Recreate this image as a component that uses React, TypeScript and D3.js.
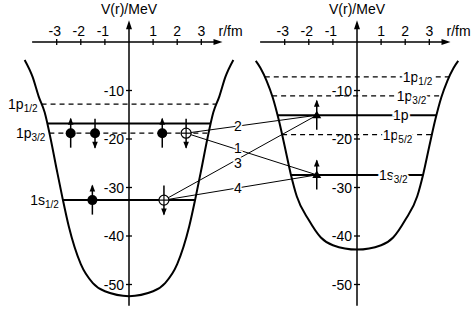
import React from 'react';
import * as d3 from 'd3';

// well shapes (r in fm, V in MeV), mirrored for r < 0
const leftWellR = [0, 1, 1.5, 2, 2.5, 2.75, 3, 3.25, 3.5, 3.75, 4, 4.33];
const leftWellV = [-52.4, -51.4, -49.7, -45.8, -38, -32.4, -26.3, -20, -14.5, -11.2, -7.2, -3.7];
const rightWellR = [0, 1, 1.5, 2, 2.5, 2.75, 3, 3.25, 3.5, 3.75, 4, 4.2];
const rightWellV = [-42.8, -41.9, -40.3, -36.7, -31.8, -27.2, -21.5, -16, -11.4, -8, -5.4, -3.9];

// single particle levels
const leftLevelV = [-12.8, -16.8, -18.8, -32.6];
const leftLevelName = ['1p', '', '1p', '1s'];
const leftLevelSub = ['1/2', '', '3/2', '1/2'];
const leftLevelKind = ['dash', 'solid', 'dash', 'solid'];

const rightLevelV = [-7.2, -11.1, -15.1, -19.1, -27.4];
const rightLevelName = ['1p', '1p', '1p', '1p', '1s'];
const rightLevelSub = ['1/2', '3/2', '', '5/2', '3/2'];
const rightLevelKind = ['dash', 'dash', 'solid', 'dash', 'solid'];
const rightLabelR = [1.9, 1.65, 1.49, 1.07, 0.91];

// occupied states / holes: level index, r position, spin
const leftParticleLevel = [2, 2, 2, 2, 3, 3];
const leftParticleR = [-2.42, -1.41, 1.38, 2.37, -1.52, 1.45];
const leftParticleHole = [false, false, false, true, false, true];
const leftParticleSpin = ['up', 'down', 'up', 'down', 'up', 'down'];

const rightParticleLevel = [2, 4];
const rightParticleR = [-1.67, -1.67];

// transitions: left particle index -> right particle index
const transFrom = [3, 3, 5, 5];
const transTo = [0, 1, 0, 1];
const transLabel = ['2', '1', '3', '4'];
const transLabelDy = [0, -2, 4, 0];

const xTicks = [-3, -2, -1, 1, 2, 3];
const yTicks = [-10, -20, -30, -40, -50];

const FONT = 'Liberation Sans, Arial, Helvetica, sans-serif';
const pxPerFm = 24.1;
const y = d3.scaleLinear().domain([0, -50]).range([42, 284.5]);

function Arrow({ x, yc, dir }: { x: number; yc: number; dir: string }) {
  const top = yc - 14.5;
  const bot = yc + 14.5;
  const tip = dir === 'up' ? top : bot;
  const s = dir === 'up' ? 1 : -1;
  return (
    <g>
      <line x1={x} x2={x} y1={top} y2={bot} stroke="#000" strokeWidth={1.5} />
      <path d={`M${x},${tip - s * 1}L${x - 2.8},${tip + s * 6}L${x + 2.8},${tip + s * 6}Z`} fill="#000" />
    </g>
  );
}

function Axes({ x }: { x: d3.ScaleLinear<number, number> }) {
  const x0 = x(0);
  const xa0 = x(-4.02);
  const xa1 = x(3.88);
  const ya0 = y(4.5);
  const ya1 = y(-54.4);
  return (
    <g fontFamily={FONT} fontSize={14}>
      <line x1={xa0} x2={xa1 - 6} y1={y(0)} y2={y(0)} stroke="#000" strokeWidth={1.5} />
      <path d={`M${xa1},${y(0)}L${xa1 - 9},${y(0) - 3}L${xa1 - 9},${y(0) + 3}Z`} fill="#000" />
      <line x1={x0} x2={x0} y1={ya0 + 6} y2={ya1} stroke="#000" strokeWidth={1.5} />
      <path d={`M${x0},${ya0}L${x0 - 3},${ya0 + 9}L${x0 + 3},${ya0 + 9}Z`} fill="#000" />
      {xTicks.map((t) => (
        <g key={t}>
          <line x1={x(t)} x2={x(t)} y1={y(0) - 3} y2={y(0) + 3} stroke="#000" strokeWidth={1.3} />
          <text x={x(t) - (t < 0 ? 2 : 0)} y={36} textAnchor="middle">{t}</text>
        </g>
      ))}
      <text x={xa1 - 4} y={36}>r/fm</text>
      <text x={x0} y={14} textAnchor="middle">V(r)/MeV</text>
      {yTicks.map((t) => (
        <g key={t}>
          <line x1={x0 - 3} x2={x0 + 3} y1={y(t)} y2={y(t)} stroke="#000" strokeWidth={1.3} />
          <text x={x0 - 5} y={y(t) + 5} textAnchor="end" stroke="#fff" strokeWidth={3}
            style={{ paintOrder: 'stroke' }}>{t}</text>
        </g>
      ))}
    </g>
  );
}

function wellPath(x: d3.ScaleLinear<number, number>, rs: number[], vs: number[]) {
  const pts: [number, number][] = [];
  for (let i = rs.length - 1; i > 0; i--) pts.push([-rs[i], vs[i]]);
  for (let i = 0; i < rs.length; i++) pts.push([rs[i], vs[i]]);
  return d3.line<[number, number]>()
    .x((d) => x(d[0]))
    .y((d) => y(d[1]))
    .curve(d3.curveMonotoneX)(pts) as string;
}

export default function App() {
  const xl = d3.scaleLinear().domain([0, 1]).range([129, 129 + pxPerFm]);
  const xr = d3.scaleLinear().domain([0, 1]).range([357, 357 + pxPerFm]);
  const wallL = d3.scaleLinear().domain(leftWellV).range(leftWellR);
  const wallR = d3.scaleLinear().domain(rightWellV).range(rightWellR);

  const leftPts = leftParticleR.map((r, i) => [xl(r), y(leftLevelV[leftParticleLevel[i]])]);
  const rightPts = rightParticleR.map((r, i) => [xr(r), y(rightLevelV[rightParticleLevel[i]])]);

  return (
    <svg width={473} height={311} style={{ position: 'absolute', left: 0, top: 0, background: '#fff' }}>
      <Axes x={xl} />
      <Axes x={xr} />

      {/* left levels */}
      {leftLevelV.map((v, i) => {
        const rw = wallL(v);
        return (
          <g key={i}>
            <line x1={xl(-rw)} x2={xl(rw)} y1={y(v)} y2={y(v)} stroke="#000"
              strokeWidth={leftLevelKind[i] === 'dash' ? 1.3 : 2}
              strokeDasharray={leftLevelKind[i] === 'dash' ? '5,4' : undefined} />
            {leftLevelName[i] && (
              <text x={xl(-rw) - 4} y={y(v) + 5} textAnchor="end"
                fontFamily={FONT} fontSize={14}>
                {leftLevelName[i]}
                <tspan fontSize={10} dy={3}>{leftLevelSub[i]}</tspan>
              </text>
            )}
          </g>
        );
      })}

      {/* right levels */}
      {rightLevelV.map((v, i) => {
        const rw = wallR(v);
        return (
          <g key={i}>
            <line x1={xr(-rw)} x2={xr(rw)} y1={y(v)} y2={y(v)} stroke="#000"
              strokeWidth={rightLevelKind[i] === 'dash' ? 1.3 : 2}
              strokeDasharray={rightLevelKind[i] === 'dash' ? '5,4' : undefined} />
            <text x={xr(rightLabelR[i])} y={y(v) + 5} fontFamily={FONT} fontSize={14}
              stroke="#fff" strokeWidth={4} style={{ paintOrder: 'stroke' }}>
              {rightLevelName[i]}
              <tspan fontSize={10} dy={3}>{rightLevelSub[i]}</tspan>
            </text>
          </g>
        );
      })}

      {/* transitions */}
      {transFrom.map((f, i) => {
        const [x1, y1] = leftPts[f];
        const [x2, y2] = rightPts[transTo[i]];
        const t = (238 - x1) / (x2 - x1);
        return (
          <g key={i}>
            <line x1={x1} y1={y1} x2={x2} y2={y2} stroke="#000" strokeWidth={1} />
            <text x={x1 + t * (x2 - x1)} y={y1 + t * (y2 - y1) + 5 + transLabelDy[i]} textAnchor="middle"
              fontFamily={FONT} fontSize={14} stroke="#fff" strokeWidth={3}
              style={{ paintOrder: 'stroke' }}>{transLabel[i]}</text>
          </g>
        );
      })}

      {/* wells */}
      <path d={wellPath(xl, leftWellR, leftWellV)} fill="none" stroke="#000" strokeWidth={2} />
      <path d={wellPath(xr, rightWellR, rightWellV)} fill="none" stroke="#000" strokeWidth={2} />

      {/* left particles and holes */}
      {leftPts.map(([px, py], i) => (
        <g key={i}>
          <Arrow x={px} yc={py} dir={leftParticleSpin[i]} />
          {leftParticleHole[i] ? (
            <g>
              <circle cx={px} cy={py} r={5} fill="#fff" stroke="#000" strokeWidth={1.2} />
              <line x1={px - 5} x2={px + 5} y1={py} y2={py} stroke="#000" strokeWidth={1.2} />
              <line x1={px} x2={px} y1={py - 5} y2={py + 5} stroke="#000" strokeWidth={1.2} />
            </g>
          ) : (
            <circle cx={px} cy={py} r={5} fill="#000" />
          )}
        </g>
      ))}

      {/* right particles */}
      {rightPts.map(([px, py], i) => (
        <g key={i}>
          <Arrow x={px} yc={py} dir="up" />
          <path d={`M${px},${py - 4.5}L${px - 4.5},${py + 3}L${px + 4.5},${py + 3}Z`} fill="#000" />
        </g>
      ))}
    </svg>
  );
}
